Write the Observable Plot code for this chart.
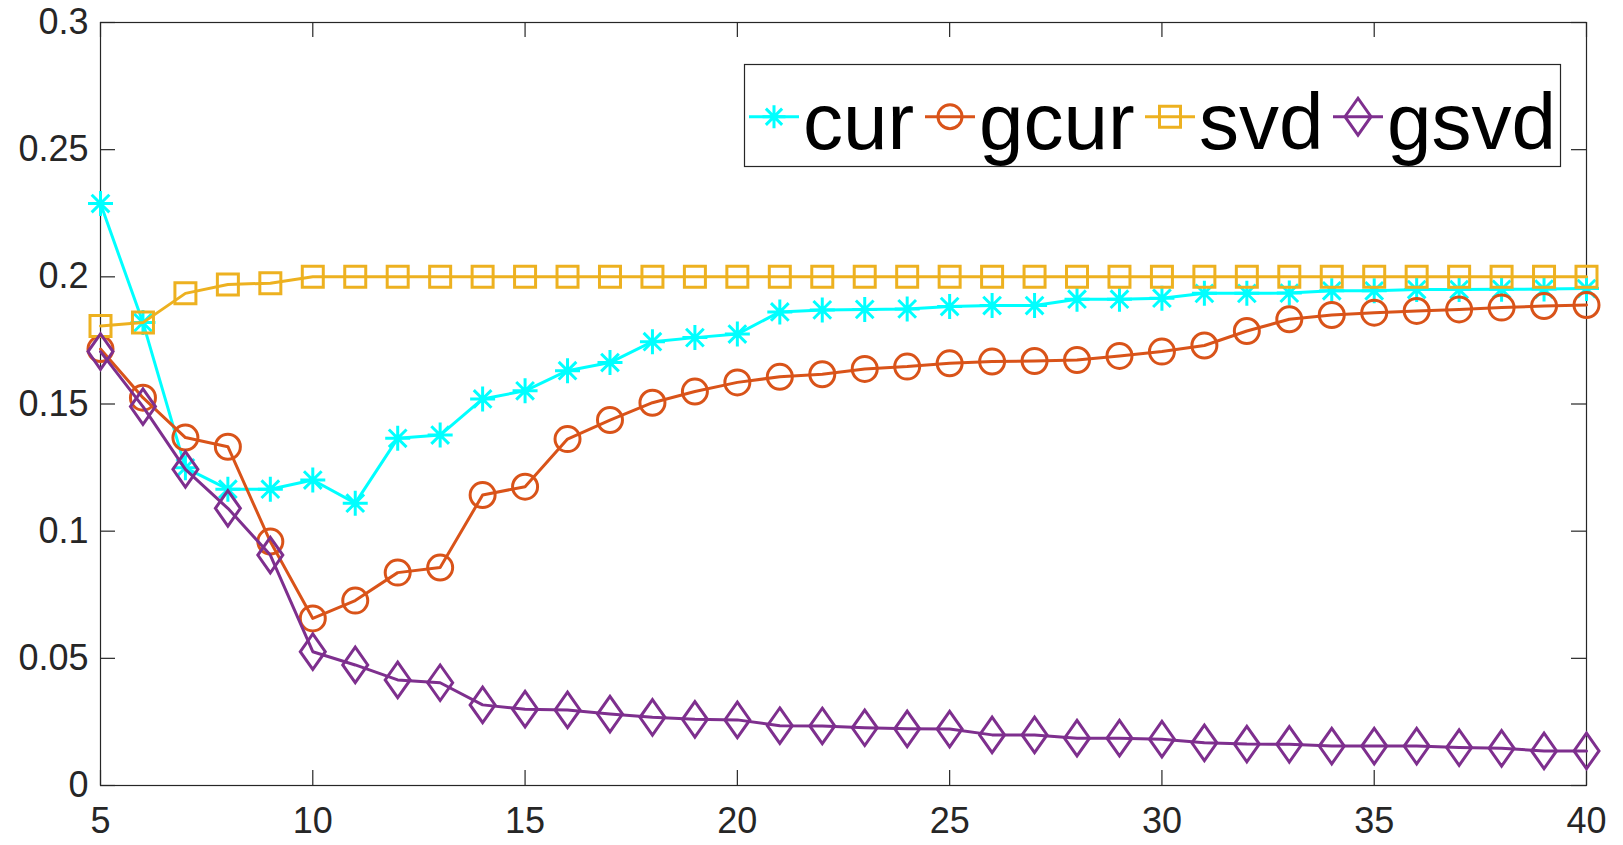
<!DOCTYPE html>
<html>
<head>
<meta charset="utf-8">
<script src="https://cdn.jsdelivr.net/npm/d3@7"></script>
<script src="https://cdn.jsdelivr.net/npm/@observablehq/plot@0.6"></script>
<style>
  html, body { margin: 0; padding: 0; background: #fff; }
  #chart { width: 1623px; height: 845px; }
</style>
</head>
<body>
<div id="chart"></div>
<script>
// ---------------- data ----------------
const ks = [5,6,7,8,9,10,11,12,13,14,15,16,17,18,19,20,21,22,23,24,25,26,27,28,29,30,31,32,33,34,35,36,37,38,39,40];
const cur  = [0.2288,0.182,0.1249,0.1165,0.1165,0.1201,0.111,0.1365,0.1378,0.152,0.1552,0.1631,0.1663,0.1745,0.1761,0.1775,0.1862,0.187,0.1872,0.1874,0.1883,0.1887,0.1887,0.1912,0.1912,0.1916,0.1935,0.1935,0.1936,0.1945,0.1945,0.195,0.195,0.1951,0.1952,0.1954];
const gcur = [0.1716,0.1525,0.1368,0.1332,0.0959,0.0657,0.0727,0.0837,0.0857,0.1142,0.1175,0.1362,0.1437,0.1505,0.1549,0.1585,0.1607,0.1617,0.1638,0.1647,0.166,0.1667,0.1669,0.1673,0.1689,0.1706,0.173,0.1787,0.1833,0.185,0.1859,0.1866,0.1872,0.1879,0.1885,0.1889];
const svd  = [0.1807,0.182,0.1935,0.197,0.1975,0.2,0.2,0.2,0.2,0.2,0.2,0.2,0.2,0.2,0.2,0.2,0.2,0.2,0.2,0.2,0.2,0.2,0.2,0.2,0.2,0.2,0.2,0.2,0.2,0.2,0.2,0.2,0.2,0.2,0.2,0.2];
const gsvd = [0.1706,0.149,0.1243,0.109,0.0906,0.0526,0.0474,0.0415,0.0404,0.0317,0.03,0.0297,0.0281,0.0268,0.026,0.0258,0.0235,0.0234,0.0227,0.0223,0.0222,0.0199,0.0199,0.0186,0.0186,0.0182,0.0168,0.0163,0.0162,0.0155,0.0155,0.0155,0.0149,0.0146,0.0136,0.0136];
const seriesNames = ["cur", "gcur", "svd", "gsvd"];
const xTicks = [5,10,15,20,25,30,35,40];
const yTicks = [0,0.05,0.1,0.15,0.2,0.25,0.3];
const yTickLabels = ["0","0.05","0.1","0.15","0.2","0.25","0.3"];

// ---------------- styles ----------------
const W = 1623, H = 845;
const M = {top: 22, right: 37, bottom: 60, left: 100};
const plotW = W - M.left - M.right, plotH = H - M.top - M.bottom;
const axisColor = "#262626";
const FONT = "'Liberation Sans', Arial, Helvetica, sans-serif";
const LW = 3;

const starSym = {draw(ctx, size) {
  const r = Math.sqrt(size / Math.PI), d = r * Math.SQRT1_2;
  ctx.moveTo(-r, 0); ctx.lineTo(r, 0);
  ctx.moveTo(0, -r); ctx.lineTo(0, r);
  ctx.moveTo(-d, -d); ctx.lineTo(d, d);
  ctx.moveTo(-d, d); ctx.lineTo(d, -d);
}};
const circleSym = {draw(ctx, size) {
  const r = Math.sqrt(size / Math.PI);
  ctx.moveTo(r, 0); ctx.arc(0, 0, r, 0, 2 * Math.PI); ctx.closePath();
}};
const squareSym = {draw(ctx, size) {
  const r = Math.sqrt(size / Math.PI);
  ctx.rect(-r, -r, 2 * r, 2 * r);
}};
const diamondSym = {draw(ctx, size) {
  const r = Math.sqrt(size / Math.PI), h = r * 1.42;
  ctx.moveTo(0, -h); ctx.lineTo(r, 0); ctx.lineTo(0, h); ctx.lineTo(-r, 0); ctx.closePath();
}};

const styles = {
  cur:  {color: "#00FFFF", symbol: starSym,    r: 12.5},
  gcur: {color: "#D95319", symbol: circleSym,  r: 12.5},
  svd:  {color: "#EDB120", symbol: squareSym,  r: 10.5},
  gsvd: {color: "#7E2F8E", symbol: diamondSym, r: 12.5}
};
const valuesBy = {cur, gcur, svd, gsvd};

const marks = [];
for (const name of seriesNames) {
  const s = styles[name];
  const data = ks.map((k, i) => ({k, v: valuesBy[name][i]}));
  marks.push(Plot.line(data, {x: "k", y: "v", stroke: s.color, strokeWidth: LW}));
  marks.push(Plot.dot(data, {x: "k", y: "v", r: s.r, symbol: s.symbol, stroke: s.color, fill: "none", strokeWidth: LW}));
}

const chart = Plot.plot({
  width: W, height: H,
  marginTop: M.top, marginRight: M.right, marginBottom: M.bottom, marginLeft: M.left,
  style: {fontFamily: FONT, fontSize: "36px", color: axisColor, background: "#fff"},
  x: {domain: [5, 40]},
  y: {domain: [0, 0.3]},
  marks: [
    Plot.frame({stroke: axisColor, strokeWidth: 1.2}),
    Plot.tickY(yTicks, {y: d => d, stroke: axisColor, strokeWidth: 1.2, insetRight: plotW - 15}),
    Plot.tickY(yTicks, {y: d => d, stroke: axisColor, strokeWidth: 1.2, insetLeft: plotW - 15}),
    Plot.tickX(xTicks, {x: d => d, stroke: axisColor, strokeWidth: 1.2, insetTop: plotH - 15}),
    Plot.tickX(xTicks, {x: d => d, stroke: axisColor, strokeWidth: 1.2, insetBottom: plotH - 15}),
    Plot.axisX({ticks: xTicks, tickSize: 0, tickPadding: 22, label: null, fontSize: 36, tickFormat: d => String(d)}),
    Plot.axisY({ticks: yTicks, tickSize: 0, tickPadding: 12, label: null, fontSize: 36,
      tickFormat: d => yTickLabels[yTicks.indexOf(d)]}),
    ...marks
  ]
});
document.getElementById("chart").appendChild(chart);

// ---------------- legend (inside the axes, top right) ----------------
const svg = d3.select(chart.tagName.toLowerCase() === "svg" ? chart : chart.querySelector("svg"));
const leg = svg.append("g").attr("class", "legend").attr("text-anchor", "start");
leg.append("rect")
  .attr("x", 744.5).attr("y", 64.5).attr("width", 816).attr("height", 102)
  .attr("fill", "#fff").attr("stroke", axisColor).attr("stroke-width", 1.2);
const legendSampleX = [749, 925, 1145, 1333];
const legendR = {cur: 11.5, gcur: 12, svd: 10.5, gsvd: 13};
const sampleW = 50, lineY = 116.7, baseY = 149.3;
seriesNames.forEach((name, i) => {
  const s = styles[name];
  const x0 = legendSampleX[i];
  leg.append("line").attr("x1", x0).attr("x2", x0 + sampleW).attr("y1", lineY).attr("y2", lineY)
    .attr("stroke", s.color).attr("stroke-width", LW);
  const r = legendR[name];
  leg.append("path")
    .attr("d", d3.symbol().type(s.symbol).size(Math.PI * r * r)())
    .attr("transform", `translate(${x0 + sampleW / 2},${lineY})`)
    .attr("fill", "none").attr("stroke", s.color).attr("stroke-width", LW);
  leg.append("text").attr("x", x0 + sampleW + 4).attr("y", baseY)
    .attr("text-anchor", "start")
    .attr("font-family", FONT).attr("font-size", 80).attr("fill", "#000")
    .text(name);
});
</script>
</body>
</html>
